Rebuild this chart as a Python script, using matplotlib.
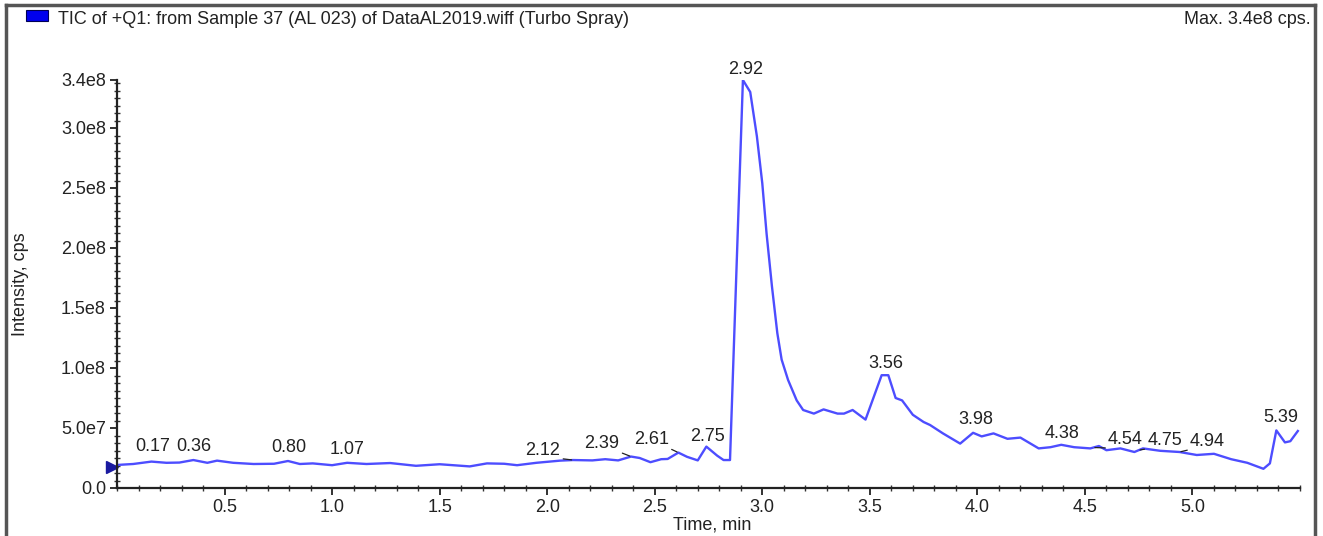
import numpy as np
import matplotlib
matplotlib.use("Agg")
import matplotlib.pyplot as plt
from matplotlib.ticker import MultipleLocator
from matplotlib.lines import Line2D
from matplotlib.patches import Rectangle

plt.rcParams['font.family'] = ['Liberation Sans', 'DejaVu Sans']

# TIC trace, time in min, intensity in units of 1e7 cps
time_min = [0.00, 0.075, 0.16, 0.23, 0.29, 0.355, 0.42, 0.465, 0.54, 0.635,
            0.73, 0.795, 0.85, 0.91, 1.00, 1.07, 1.16, 1.27, 1.39, 1.50,
            1.64, 1.72, 1.80, 1.86, 1.95, 2.06, 2.12, 2.21, 2.27, 2.33,
            2.39, 2.43, 2.48, 2.53, 2.56, 2.61, 2.65, 2.70, 2.74, 2.79,
            2.82, 2.85, 2.91, 2.944, 2.975, 3.00, 3.02, 3.045, 3.07, 3.09,
            3.12, 3.16, 3.19, 3.24, 3.285, 3.35, 3.38, 3.42, 3.48, 3.555,
            3.586, 3.62, 3.65, 3.70, 3.75, 3.78, 3.84, 3.92, 3.98, 4.02,
            4.075, 4.14, 4.20, 4.285, 4.34, 4.39, 4.45, 4.525, 4.565, 4.60,
            4.665, 4.73, 4.77, 4.85, 4.94, 5.02, 5.10, 5.18, 5.255, 5.33,
            5.36, 5.39, 5.43, 5.455, 5.49]
intensity_e7 = [1.92, 2.00, 2.20, 2.10, 2.12, 2.33, 2.10, 2.28, 2.10, 2.00,
                2.02, 2.25, 2.00, 2.05, 1.90, 2.10, 2.00, 2.08, 1.85, 1.98,
                1.80, 2.05, 2.02, 1.90, 2.10, 2.28, 2.33, 2.30, 2.40, 2.30,
                2.62, 2.50, 2.15, 2.40, 2.42, 2.95, 2.60, 2.30, 3.45, 2.70,
                2.33, 2.33, 34.0, 33.0, 29.3, 25.4, 21.2, 16.8, 12.9, 10.7,
                9.0, 7.3, 6.5, 6.2, 6.55, 6.2, 6.2, 6.5, 5.7, 9.4,
                9.4, 7.5, 7.3, 6.1, 5.5, 5.25, 4.55, 3.70, 4.6, 4.3,
                4.55, 4.1, 4.2, 3.3, 3.4, 3.6, 3.4, 3.3, 3.5, 3.15,
                3.3, 3.0, 3.3, 3.1, 3.0, 2.75, 2.85, 2.4, 2.1, 1.6,
                2.05, 4.8, 3.8, 3.9, 4.75]

peak_labels = ["0.17", "0.36", "0.80", "1.07", "2.12", "2.39", "2.61", "2.75",
               "2.92", "3.56", "3.98", "4.38", "4.54", "4.75", "4.94", "5.39"]

y_ticks = [0, 5e7, 1e8, 1.5e8, 2e8, 2.5e8, 3e8, 3.4e8]
y_tick_labels = ["0.0", "5.0e7", "1.0e8", "1.5e8", "2.0e8", "2.5e8", "3.0e8", "3.4e8"]
x_ticks = [0.5, 1.0, 1.5, 2.0, 2.5, 3.0, 3.5, 4.0, 4.5, 5.0]

title = "TIC of +Q1: from Sample 37 (AL 023) of DataAL2019.wiff (Turbo Spray)"
max_text = "Max. 3.4e8 cps."

# label placement (pixel offsets from the trace) and leader lines
label_offsets = {
    "0.17": (-1, 15, None), "0.36": (-1, 14, None), "0.80": (0, 14, None),
    "1.07": (0, 13, None), "2.12": (-30, 10, (1, 0)), "2.39": (-29, 13, (1, 0)),
    "2.61": (-27, 13, (1, 0)), "2.75": (-1, 12, None), "2.92": (1, 14, None),
    "3.56": (3, 12, None), "3.98": (3, 13, None), "4.38": (3, 12, None),
    "4.54": (32, 8, (0, 0)), "4.75": (26, 10, (0, 0)), "4.94": (28, 11, (0, 0)),
    "5.39": (4, 13, None),
}

W, H = 1323, 536
fig = plt.figure(figsize=(W / 100, H / 100), dpi=100)
ax = fig.add_axes([117 / W, 1 - 488 / H, (1300 - 117) / W, (488 - 80) / H])

t = np.array(time_min)
y = np.array(intensity_e7) * 1e7
line_color = '#4d4dff'
ax.plot(t, y, color=line_color, lw=1.7, solid_joinstyle='round')

# start marker on the y axis
ax.plot(-0.022, y[0] * 0.93, marker='>', color='#1a1aa0', markersize=9, clip_on=False)

for lab in peak_labels:
    pt = float(lab)
    pv = np.interp(pt, t, y)
    dx, dy, rel = label_offsets[lab]
    kw = dict(xy=(pt, pv), xytext=(dx, dy), textcoords='offset pixels',
              ha='center', va='center', fontsize=13, color='#222222')
    if rel is not None:
        kw['arrowprops'] = dict(arrowstyle='-', color='#222222', lw=0.9,
                                relpos=rel, shrinkA=0, shrinkB=1)
    ax.annotate(lab, **kw)

ax.set_xlim(0, 5.5)
ax.set_ylim(0, 3.4e8)
ax.set_xticks(x_ticks)
ax.set_xticklabels([f"{v:.1f}" for v in x_ticks])
ax.set_yticks(y_ticks)
ax.set_yticklabels(y_tick_labels)
ax.xaxis.set_minor_locator(MultipleLocator(0.1))
ax.yaxis.set_minor_locator(MultipleLocator(6.25e6))
ax.tick_params(which='major', direction='out', length=5, width=1.3,
               labelsize=13, colors='#222222', pad=3)
ax.tick_params(which='minor', direction='inout', length=4, width=1.0, colors='#333333')

for s in ['top', 'right']:
    ax.spines[s].set_visible(False)
for s in ['left', 'bottom']:
    ax.spines[s].set_linewidth(1.6)
    ax.spines[s].set_color('#222222')

ax.set_ylabel("Intensity, cps", fontsize=13, color='#222222')
ax.yaxis.set_label_coords((29 - 117) / 1183, 0.5)
ax.set_xlabel("Time, min", fontsize=13, color='#222222')
ax.xaxis.set_label_coords(0.503, (488 - 516) / 408)

# header
fig.patches.append(Rectangle((26 / W, 1 - 21 / H), 22 / W, 11 / H,
                             transform=fig.transFigure, facecolor='#0000ee',
                             edgecolor='#000055', lw=0.8))
fig.text(58 / W, 1 - 19 / H, title, fontsize=13, color='#222222', va='center', ha='left')
fig.text(1311 / W, 1 - 19 / H, max_text, fontsize=13, color='#222222', va='center', ha='right')

# outer frame
frame_kw = dict(transform=fig.transFigure, color='#555555', lw=2.5)
fig.lines.append(Line2D([6 / W, 6 / W], [0, 1 - 5 / H], **frame_kw))
fig.lines.append(Line2D([6 / W, 1315 / W], [1 - 5 / H, 1 - 5 / H], **frame_kw))
fig.lines.append(Line2D([1315 / W, 1315 / W], [0, 1 - 5 / H], **frame_kw))

fig.savefig("out.png", dpi=100)
